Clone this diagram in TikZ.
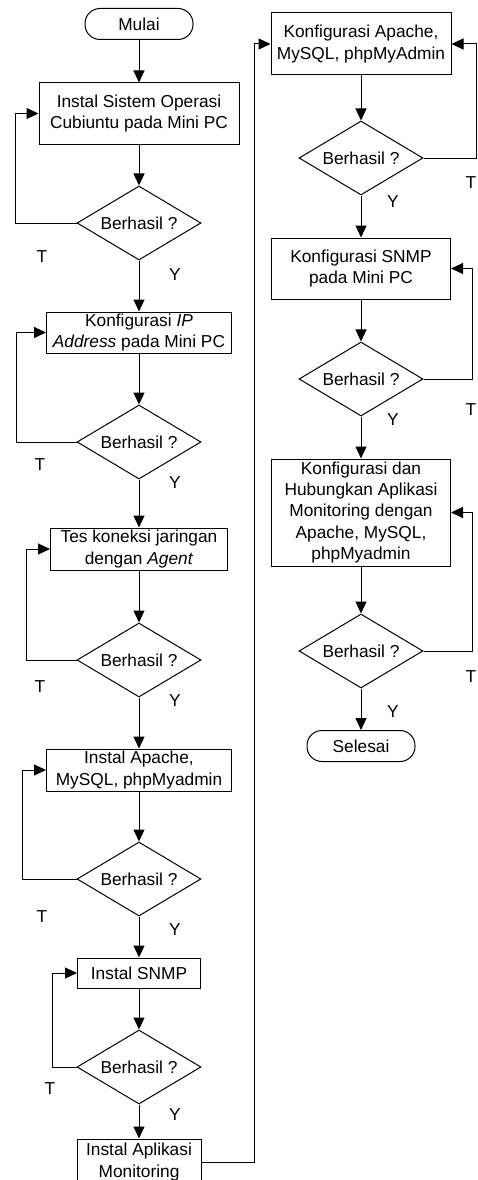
\documentclass[tikz,border=0pt]{standalone}
\usepackage{fontspec}
\setmainfont{Liberation Sans}
\usetikzlibrary{shapes.geometric,arrows.meta}
\begin{document}
\begin{tikzpicture}[x=1pt,y=-1pt,
 every node/.style={font=\fontsize{17.3}{21.25}\selectfont},
 proc/.style={draw, rectangle, align=center, inner sep=0pt, line width=1pt},
 term/.style={draw, rectangle, rounded corners=15pt, inner sep=0pt, minimum width=108pt, minimum height=31pt, line width=1pt},
 dec/.style={draw, diamond, aspect=1.676, inner sep=0pt, minimum width=124pt, minimum height=74pt, line width=1pt},
 lbl/.style={inner sep=0pt},
 arr/.style={-{Triangle[length=12pt,width=11pt]}, line width=1pt}]
\useasboundingbox (0,0) rectangle (478,1180);
\clip (0,0) rectangle (478,1180);
% left column
\node[term] (start) at (139,24) {Mulai};
\node[proc, minimum width=200pt, minimum height=61pt] (b1) at (139,113.5) {Instal Sistem Operasi\\Cubiuntu pada Mini PC};
\node[dec] (d1) at (139,223) {Berhasil ?};
\node[proc, minimum width=185pt, minimum height=41pt] (b2) at (139,332.5) {Konfigurasi \textit{IP}\\\textit{Address} pada Mini PC};
\node[dec] (d2) at (139,442) {Berhasil ?};
\node[proc, minimum width=177pt, minimum height=42pt] (b3) at (139,549) {Tes koneksi jaringan\\dengan \textit{Agent}};
\node[dec] (d3) at (139,660) {Berhasil ?};
\node[proc, minimum width=185pt, minimum height=42pt] (b4) at (139,770) {Instal Apache,\\MySQL, phpMyadmin};
\node[dec] (d4) at (139,879) {Berhasil ?};
\node[proc, minimum width=123pt, minimum height=30pt] (b5) at (139,973) {Instal SNMP};
\node[dec] (d5) at (139,1067) {Berhasil ?};
\node[proc, minimum width=124pt, minimum height=46pt] (b6) at (139,1162) {Instal Aplikasi\\Monitoring};
% right column
\node[proc, minimum width=180pt, minimum height=62pt] (b7) at (361,44) {Konfigurasi Apache,\\MySQL, phpMyAdmin};
\node[dec] (d7) at (361,158) {Berhasil ?};
\node[proc, minimum width=179pt, minimum height=61pt] (b8) at (361,268.5) {Konfigurasi SNMP\\pada Mini PC};
\node[dec] (d8) at (361,379) {Berhasil ?};
\node[proc, minimum width=179pt, minimum height=107pt] (b9) at (361,512.5) {Konfigurasi dan\\Hubungkan Aplikasi\\Monitoring dengan\\Apache, MySQL,\\phpMyadmin};
\node[dec] (d9) at (361,651) {Berhasil ?};
\node[term] (end) at (361,746) {Selesai};
% main flow
\draw[arr] (start) -- (b1);
\draw[arr] (b1) -- (d1);
\draw[arr] (d1) -- (b2);
\draw[arr] (b2) -- (d2);
\draw[arr] (d2) -- (b3);
\draw[arr] (b3) -- (d3);
\draw[arr] (d3) -- (b4);
\draw[arr] (b4) -- (d4);
\draw[arr] (d4) -- (b5);
\draw[arr] (b5) -- (d5);
\draw[arr] (d5) -- (b6);
\draw[arr] (b6.east) -- ++(53,0) |- (b7.west);
\draw[arr] (b7) -- (d7);
\draw[arr] (d7) -- (b8);
\draw[arr] (b8) -- (d8);
\draw[arr] (d8) -- (b9);
\draw[arr] (b9) -- (d9);
\draw[arr] (d9) -- (end);
% loops
\draw[arr] (d1.west) -- ++(-61,0) |- (b1.west);
\draw[arr] (d2.west) -- ++(-60,0) |- (b2.west);
\draw[arr] (d3.west) -- ++(-50,0) |- (b3.west);
\draw[arr] (d4.west) -- ++(-54,0) |- (b4.west);
\draw[arr] (d5.west) -- ++(-24,0) |- (b5.west);
\draw[arr] (d7.east) -- ++(53,0) |- (b7.east);
\draw[arr] (d8.east) -- ++(49,0) |- (b8.east);
\draw[arr] (d9.east) -- ++(49,0) |- (b9.east);
% labels
\node[lbl] (t1) at (42,257) {T};
\node[lbl] (t2) at (40,465) {T};
\node[lbl] (t3) at (40,687) {T};
\node[lbl] (t4) at (42,917) {T};
\node[lbl] (t5) at (50,1089) {T};
\node[lbl] (y1) at (175,275) {Y};
\node[lbl] (y2) at (175,483) {Y};
\node[lbl] (y3) at (175,701) {Y};
\node[lbl] (y4) at (175,930) {Y};
\node[lbl] (y5) at (175,1115) {Y};
\node[lbl] (t7) at (471,183) {T};
\node[lbl] (t8) at (471,410) {T};
\node[lbl] (t9) at (471,677) {T};
\node[lbl] (y7) at (393,202) {Y};
\node[lbl] (y8) at (393,420) {Y};
\node[lbl] (y9) at (393,712) {Y};
\end{tikzpicture}
\end{document}
